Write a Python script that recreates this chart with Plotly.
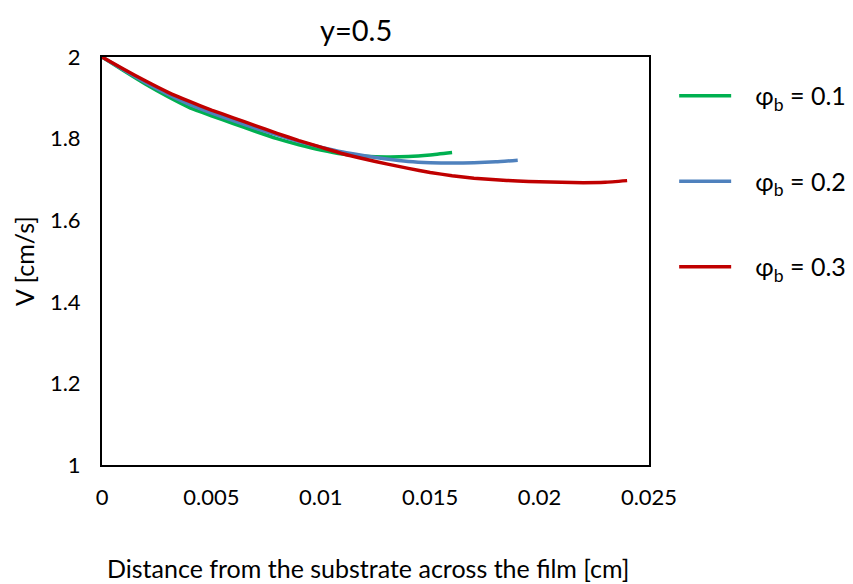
import plotly.graph_objects as go

x_green = [0.000, 0.001, 0.002, 0.003, 0.004, 0.005, 0.006, 0.007, 0.008, 0.009,
           0.010, 0.011, 0.012, 0.013, 0.014, 0.015, 0.016]
v_green = [2.000, 1.966, 1.933, 1.903, 1.876, 1.856, 1.837, 1.818, 1.800, 1.785,
           1.772, 1.762, 1.757, 1.755, 1.756, 1.760, 1.766]

x_blue = [0.000, 0.001, 0.002, 0.003, 0.004, 0.005, 0.006, 0.007, 0.008, 0.009,
          0.010, 0.011, 0.012, 0.013, 0.014, 0.015, 0.016, 0.017, 0.018, 0.019]
v_blue = [2.000, 1.968, 1.937, 1.909, 1.884, 1.863, 1.844, 1.826, 1.809, 1.793,
          1.779, 1.767, 1.758, 1.750, 1.744, 1.741, 1.740, 1.741, 1.743, 1.747]

x_red = [0.000, 0.001, 0.002, 0.003, 0.004, 0.005, 0.006, 0.007, 0.008, 0.009,
         0.010, 0.011, 0.012, 0.013, 0.014, 0.015, 0.016, 0.017, 0.018, 0.019,
         0.020, 0.021, 0.022, 0.023, 0.024]
v_red = [2.000, 1.970, 1.941, 1.914, 1.891, 1.870, 1.851, 1.832, 1.813, 1.795,
         1.779, 1.763, 1.750, 1.738, 1.727, 1.717, 1.709, 1.703, 1.699, 1.696,
         1.694, 1.693, 1.692, 1.693, 1.697]

names = ["\u00a0\u00a0\u00a0φ<sub>b</sub> = 0.1",
         "\u00a0\u00a0\u00a0φ<sub>b</sub> = 0.2",
         "\u00a0\u00a0\u00a0φ<sub>b</sub> = 0.3"]
colors = ["#00B050", "#4F81BD", "#C00000"]

x_ticks = [0, 0.005, 0.01, 0.015, 0.02, 0.025]
x_tick_labels = ["0", "0.005", "0.01", "0.015", "0.02", "0.025"]
y_ticks = [1, 1.2, 1.4, 1.6, 1.8, 2]
y_tick_labels = ["1", "1.2", "1.4", "1.6", "1.8", "2"]

FONT = "Lato, sans-serif"

fig = go.Figure()
for i, (xs, vs) in enumerate([(x_green, v_green), (x_blue, v_blue), (x_red, v_red)]):
    fig.add_trace(go.Scatter(
        x=xs, y=vs, mode="lines", name=names[i],
        line=dict(color=colors[i], width=3.5, shape="spline", smoothing=0.4),
        legendgroup=f"g{i}",
    ))

fig.add_annotation(
    text="y=0.5",
    xref="paper", yref="paper", x=(348 - 94) / 547, y=1 + 47 / 408,
    xanchor="center", yanchor="top", showarrow=False,
    font=dict(size=29, family=FONT),
)
fig.add_annotation(
    text="Distance from the substrate across the film [cm]",
    xref="paper", yref="paper", x=0.488, y=-0.2525,
    xanchor="center", yanchor="middle", showarrow=False,
    font=dict(size=25, family=FONT),
)

fig.update_layout(
    width=853, height=584,
    margin=dict(l=94, r=212, t=49, b=127, autoexpand=False),
    paper_bgcolor="white", plot_bgcolor="white",
    font=dict(family=FONT, size=22, color="#000000"),
    showlegend=True,
    legend=dict(x=1.046, xanchor="left", y=0.961, yanchor="top",
                tracegroupgap=50, itemwidth=52,
                font=dict(size=25, family=FONT), bgcolor="rgba(0,0,0,0)"),
)
fig.update_xaxes(
    range=[0, 0.025], tickvals=x_ticks, ticktext=x_tick_labels,
    showgrid=False, zeroline=False, showline=True, linecolor="black",
    linewidth=2, mirror=True, ticks="", ticklabelstandoff=12,
    tickfont=dict(size=22),
)
fig.update_yaxes(
    range=[1, 2], tickvals=y_ticks, ticktext=y_tick_labels,
    showgrid=False, zeroline=False, showline=True, linecolor="black",
    linewidth=2, mirror=True, ticks="", ticklabelstandoff=15,
    tickfont=dict(size=22),
    title=dict(text="V [cm/s]", font=dict(size=25), standoff=8),
)

fig.write_html("out.html")
